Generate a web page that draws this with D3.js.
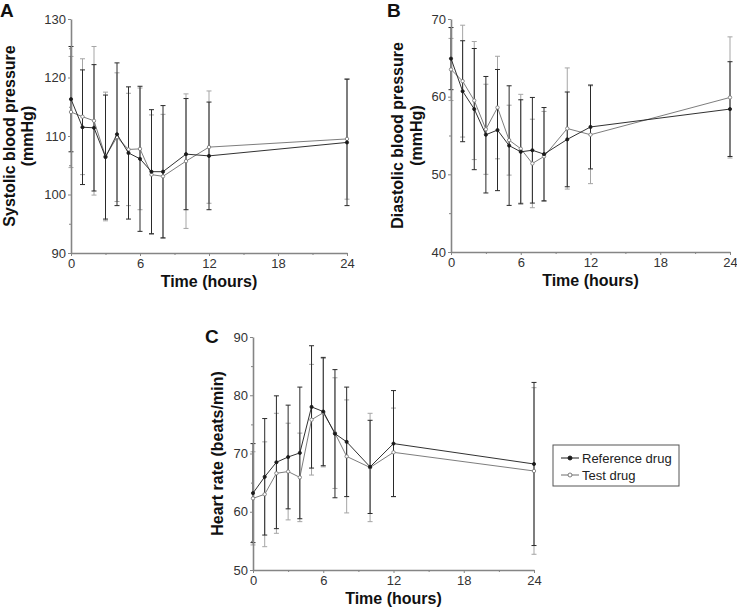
<!DOCTYPE html>
<html>
<head>
<meta charset="utf-8">
<script src="https://cdn.jsdelivr.net/npm/d3@7"></script>
<style>
  body { margin: 0; background: #fff; }
  svg { display: block; font-family: "Liberation Sans", Arial, sans-serif; }
</style>
</head>
<body>
<svg width="737" height="608"></svg>
<script>
// Time points (hours)
var times = [0, 1, 2, 3, 4, 5, 6, 7, 8, 10, 12, 24];
var xTicks = [0, 6, 12, 18, 24];

// A: systolic blood pressure (mmHg)
var sbpRef = [116.3, 111.5, 111.4, 106.4, 110.3, 107.1, 106.1, 103.9, 103.9, 106.9, 106.6, 108.9];
var sbpRefSd = [9.0, 9.8, 10.8, 10.6, 12.2, 11.3, 12.4, 10.6, 11.3, 9.5, 9.2, 10.8];
var sbpTest = [114.1, 113.3, 112.6, 106.5, 109.8, 107.7, 107.8, 103.4, 103.1, 105.7, 108.1, 109.5];
var sbpTestSd = [9.5, 9.9, 12.7, 11.0, 11.0, 9.6, 10.4, 10.2, 10.6, 11.5, 9.6, 10.3];
var sbpTicks = [90, 100, 110, 120, 130];

// B: diastolic blood pressure (mmHg)
var dbpRef = [64.9, 60.7, 58.4, 55.1, 55.7, 53.7, 52.9, 53.1, 52.6, 54.5, 56.1, 58.4];
var dbpRefSd = [4.0, 6.5, 7.8, 7.5, 7.8, 7.7, 6.7, 6.8, 6.0, 6.1, 5.4, 6.1];
var dbpTest = [63.5, 62.0, 59.5, 55.8, 58.6, 54.4, 53.3, 51.4, 52.3, 55.9, 55.1, 59.9];
var dbpTestSd = [4.0, 7.2, 7.6, 5.8, 6.6, 4.5, 7.0, 5.7, 5.8, 7.8, 6.3, 7.8];
var dbpTicks = [40, 50, 60, 70];

// C: heart rate (beats/min)
var hrRef = [63.2, 66.0, 68.5, 69.4, 70.1, 78.0, 77.2, 73.4, 72.0, 67.7, 71.7, 68.2];
var hrRefSd = [8.5, 10.0, 11.4, 8.9, 11.3, 10.5, 9.3, 11.0, 9.4, 8.0, 9.1, 14.0];
var hrTest = [62.3, 63.0, 66.6, 66.9, 65.9, 75.8, 77.0, 73.5, 69.5, 67.6, 70.2, 67.0];
var hrTestSd = [8.0, 9.0, 10.3, 8.3, 7.6, 9.5, 9.3, 9.5, 9.7, 9.3, 7.6, 14.3];
var hrTicks = [50, 60, 70, 80, 90];

var seriesNames = ["Reference drug", "Test drug"];

var svg = d3.select("svg");
var refColor = "#1a1a1a", testColor = "#6e6e6e";
var refBar = "#2a2a2a", testBar = "#a5a5a5";
var axisColor = "#858585";

var panels = [
    {letter: "A", lx: 0, ly: 17, x0: 71, x1: 347, y0: 253, y1: 19, domain: [90, 130], ticks: sbpTicks,
     title: ["Systolic blood pressure", "(mmHg)"], tx: [15, 33],
     ref: sbpRef, refSd: sbpRefSd, test: sbpTest, testSd: sbpTestSd},
    {letter: "B", lx: 387, ly: 17, x0: 451, x1: 730, y0: 252, y1: 19, domain: [40, 70], ticks: dbpTicks,
     title: ["Diastolic blood pressure", "(mmHg)"], tx: [403, 422],
     ref: dbpRef, refSd: dbpRefSd, test: dbpTest, testSd: dbpTestSd},
    {letter: "C", lx: 205, ly: 343, x0: 253, x1: 534, y0: 570, y1: 337, domain: [50, 90], ticks: hrTicks,
     title: ["Heart rate (beats/min)"], tx: [223],
     ref: hrRef, refSd: hrRefSd, test: hrTest, testSd: hrTestSd}
];

function drawPanel(p) {
    var x = d3.scaleLinear().domain([0, 24]).range([p.x0, p.x1]);
    var y = d3.scaleLinear().domain(p.domain).range([p.y0, p.y1]);
    var g = svg.append("g");

    // panel letter
    g.append("text").attr("x", p.lx).attr("y", p.ly)
        .attr("font-size", 19).attr("font-weight", "bold").attr("fill", "#111").text(p.letter);

    var series = [
        {vals: p.test, sd: p.testSd, color: testColor, bar: testBar, open: true},
        {vals: p.ref, sd: p.refSd, color: refColor, bar: refBar, open: false}
    ];

    // error bars
    series.forEach(function(s) {
        var eb = g.append("g").attr("stroke", s.bar).attr("stroke-width", 1);
        times.forEach(function(t, i) {
            var cx = x(t), hi = y(s.vals[i] + s.sd[i]), lo = y(s.vals[i] - s.sd[i]);
            eb.append("line").attr("x1", cx).attr("x2", cx).attr("y1", hi).attr("y2", lo);
            eb.append("line").attr("x1", cx - 2.5).attr("x2", cx + 2.5).attr("y1", hi).attr("y2", hi);
            eb.append("line").attr("x1", cx - 2.5).attr("x2", cx + 2.5).attr("y1", lo).attr("y2", lo);
        });
    });

    // axes (on top of the error bars at t = 0)
    var minorX = d3.range(3, 24, 6);
    g.append("g").attr("transform", "translate(0," + p.y0 + ")")
        .call(d3.axisBottom(x).tickValues(minorX).tickSize(2).tickFormat(""))
        .call(function(a) { a.select(".domain").remove(); a.selectAll("line").attr("stroke", axisColor); });
    var minorY = d3.range(p.domain[0] + 5, p.domain[1], 10);
    g.append("g").attr("transform", "translate(" + p.x0 + ",0)")
        .call(d3.axisLeft(y).tickValues(minorY).tickSize(2).tickFormat(""))
        .call(function(a) { a.select(".domain").remove(); a.selectAll("line").attr("stroke", axisColor); });

    var xa = g.append("g").attr("transform", "translate(0," + p.y0 + ")")
        .call(d3.axisBottom(x).tickValues(xTicks).tickSize(3).tickPadding(3).tickSizeOuter(0));
    var ya = g.append("g").attr("transform", "translate(" + p.x0 + ",0)")
        .call(d3.axisLeft(y).tickValues(p.ticks).tickSize(3).tickPadding(2).tickSizeOuter(0));
    [xa, ya].forEach(function(a) {
        a.select(".domain").attr("stroke", axisColor).attr("stroke-width", 1.6);
        a.selectAll(".tick line").attr("stroke", axisColor);
        a.selectAll(".tick text").attr("font-size", 13).attr("fill", "#333")
            .attr("font-family", "'Liberation Sans', Arial, sans-serif");
    });

    // axis titles
    g.append("text").attr("x", (p.x0 + p.x1) / 2).attr("y", p.y0 + 34)
        .attr("text-anchor", "middle").attr("font-size", 16).attr("font-weight", "bold")
        .attr("fill", "#111").text("Time (hours)");
    p.title.forEach(function(t, i) {
        g.append("text")
            .attr("transform", "translate(" + p.tx[i] + "," + (p.y0 + p.y1) / 2 + ") rotate(-90)")
            .attr("text-anchor", "middle").attr("font-size", 16).attr("font-weight", "bold")
            .attr("fill", "#111").text(t);
    });

    // lines and markers
    var line = d3.line().x(function(d) { return x(d[0]); }).y(function(d) { return y(d[1]); });
    series.forEach(function(s) {
        var pts = times.map(function(t, i) { return [t, s.vals[i]]; });
        g.append("path").datum(pts).attr("d", line)
            .attr("fill", "none").attr("stroke", s.color).attr("stroke-width", 0.9);
        g.selectAll(null).data(pts).enter().append("circle")
            .attr("cx", function(d) { return x(d[0]); })
            .attr("cy", function(d) { return y(d[1]); })
            .attr("r", s.open ? 1.7 : 1.6)
            .attr("fill", s.open ? "#fff" : s.color)
            .attr("stroke", s.color).attr("stroke-width", 0.8);
    });
}

panels.forEach(drawPanel);

// legend
var lg = svg.append("g").attr("transform", "translate(553,445)");
lg.append("rect").attr("width", 126).attr("height", 41)
    .attr("fill", "#fff").attr("stroke", "#555").attr("stroke-width", 1);
seriesNames.forEach(function(name, i) {
    var yy = 13 + i * 17;
    var c = i === 0 ? refColor : testColor;
    lg.append("line").attr("x1", 8).attr("x2", 26).attr("y1", yy).attr("y2", yy)
        .attr("stroke", c).attr("stroke-width", 1);
    lg.append("circle").attr("cx", 17).attr("cy", yy).attr("r", 2)
        .attr("fill", i === 0 ? c : "#fff").attr("stroke", c).attr("stroke-width", 0.9);
    lg.append("text").attr("x", 29).attr("y", yy + 4.5).attr("font-size", 13)
        .attr("fill", "#222").text(name);
});
</script>
</body>
</html>
